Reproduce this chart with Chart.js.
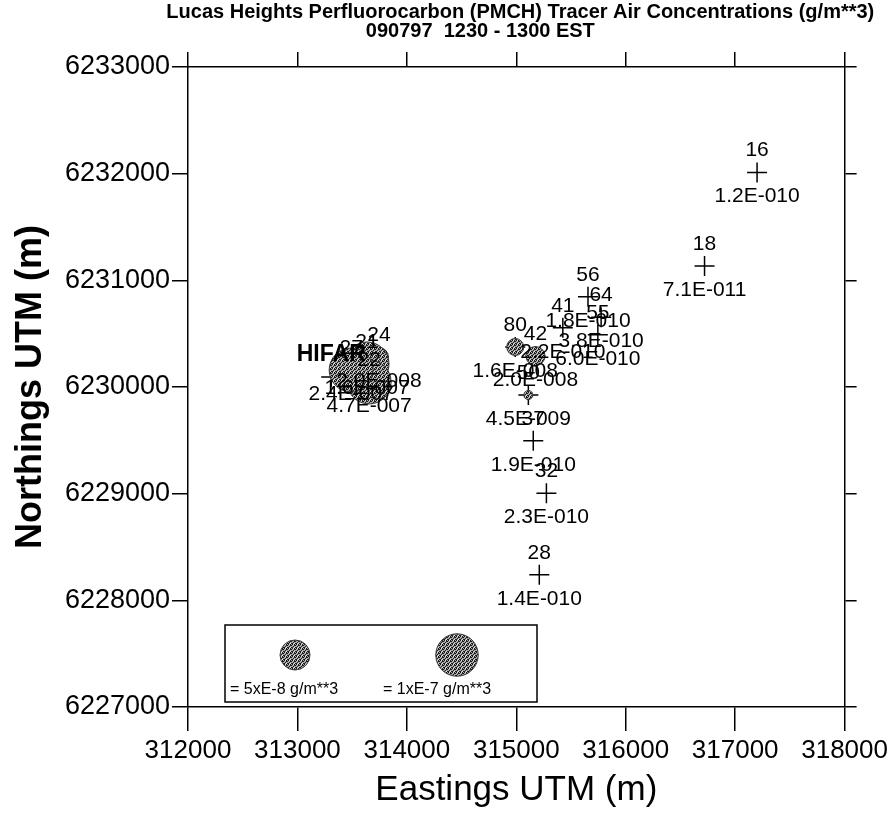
<!DOCTYPE html>
<html>
<head>
<meta charset="utf-8">
<title>Lucas Heights PMCH Tracer</title>
<script src="https://cdn.jsdelivr.net/npm/chart.js@4/dist/chart.umd.min.js"></script>
<style>
html, body { margin:0; padding:0; background:#fff; }
#wrap { width:892px; height:818px; }
</style>
</head>
<body>
<div id="wrap"><canvas id="tracerChart" width="892" height="818"></canvas></div>
<script>
// sampler sites, UTM position and PMCH concentration (g/m**3), null = no sample
var siteIds   = ['16', '18', '56', '64', '55', '41', '80', '42', '50', '37', '32', '28', '24', '21', '22', '27', 'HIFAR'];
var eastings  = [317200, 316720, 315655, 315775, 315745, 315425, 314990, 315175, 315110, 315155, 315275, 315210, 313745, 313636, 313655, 313491, 313309];
var northings = [6232010, 6231135, 6230845, 6230655, 6230490, 6230555, 6230375, 6230290, 6229925, 6229495, 6229005, 6228240, 6230281, 6230216, 6230047, 6230159, 6230094];
var concs     = [1.2e-10, 7.1e-11, 1.8e-10, 3.8e-10, 6.0e-10, 2.2e-10, 1.6e-8, 2.0e-8, 4.5e-9, 1.9e-10, 2.3e-10, 1.4e-10, 2.0e-8, 1.6e-7, 4.7e-7, 2.4e-7, null];

// key circles in the box
var keyConcs  = [5e-8, 1e-7];
var keyLabels = ['= 5xE-8 g/m**3', '= 1xE-7 g/m**3'];

var xTicks = [312000, 313000, 314000, 315000, 316000, 317000, 318000];
var yTicks = [6227000, 6228000, 6229000, 6230000, 6231000, 6232000, 6233000];

var chartTitle = 'Lucas Heights Perfluorocarbon (PMCH) Tracer Air Concentrations (g/m**3)';
var chartSubTitle = '090797  1230 - 1300 EST';

var FONT = '"Liberation Sans", Arial, sans-serif';

// circle size, area goes with concentration, big ones are capped
function bubbleRadius(c)
{
    return Math.min(22, 15 * Math.sqrt(c / 5e-8));
}

// 1.2e-10 -> 1.2E-010
function fmtConc(c)
{
    var parts = c.toExponential(1).split('e');
    var ex = parseInt(parts[1], 10);
    var sign = ex < 0 ? '-' : '+';
    var digits = String(Math.abs(ex));
    while (digits.length < 3) digits = '0' + digits;
    return parts[0] + 'E' + sign + digits;
}

var ctx = document.getElementById('tracerChart').getContext('2d');

// grey dither like the printed dot fill
function makeDither()
{
    var c = document.createElement('canvas');
    c.width = 4; c.height = 4;
    var g = c.getContext('2d');
    g.fillStyle = '#a8a8a8';
    g.fillRect(0, 0, 4, 4);
    g.fillStyle = '#1a1a1a';
    [[0,0],[2,1],[1,2],[3,3],[3,1],[0,3],[2,0]].forEach(function(p){ g.fillRect(p[0], p[1], 1, 1); });
    g.fillStyle = '#e0e0e0';
    [[1,0],[2,3]].forEach(function(p){ g.fillRect(p[0], p[1], 1, 1); });
    return ctx.createPattern(c, 'repeat');
}
var dither = makeDither();

var sitePts = [];
var bubblePts = [];
for (var i = 0; i < siteIds.length; i++)
{
    sitePts.push({x: eastings[i], y: northings[i]});
    if (concs[i] !== null && concs[i] >= 1e-9)
    {
        bubblePts.push({x: eastings[i], y: northings[i], r: bubbleRadius(concs[i])});
    }
}

// id above each cross, concentration under it
var siteLabels = {
    id: 'siteLabels',
    afterDatasetsDraw: function(chart) {
        var c = chart.ctx;
        var sx = chart.scales.x, sy = chart.scales.y;
        c.save();
        c.fillStyle = '#000';
        c.textAlign = 'center';
        c.textBaseline = 'middle';
        for (var i = 0; i < siteIds.length; i++)
        {
            var px = sx.getPixelForValue(eastings[i]);
            var py = sy.getPixelForValue(northings[i]);
            c.font = (siteIds[i] === 'HIFAR' ? 'bold 23px ' : '21px ') + FONT;
            c.fillText(siteIds[i], px, py - 22);
            if (concs[i] !== null)
            {
                c.font = '21px ' + FONT;
                c.fillText(fmtConc(concs[i]), px, py + 24);
            }
        }
        c.restore();
    }
};

// title text and the concentration key box
var titleAndKey = {
    id: 'titleAndKey',
    afterDraw: function(chart) {
        var c = chart.ctx;
        var a = chart.chartArea;
        var mid = (a.left + a.right) / 2;
        c.save();
        c.fillStyle = '#000';
        c.textAlign = 'center';
        c.textBaseline = 'middle';
        c.font = 'bold 20px ' + FONT;
        c.fillText(chartTitle, mid + 4, 12);
        c.fillText(chartSubTitle, mid - 36, 31);

        // key box
        var bx = a.left + 37, by = a.bottom - 82, bw = 312, bh = 77;
        c.fillStyle = '#fff';
        c.fillRect(bx, by, bw, bh);
        c.strokeStyle = '#000';
        c.lineWidth = 1.5;
        c.strokeRect(bx, by, bw, bh);
        var cx = [bx + 70, bx + 232];
        for (var k = 0; k < keyConcs.length; k++)
        {
            c.beginPath();
            c.arc(cx[k], by + 30, bubbleRadius(keyConcs[k]), 0, Math.PI * 2);
            c.fillStyle = dither;
            c.fill();
            c.strokeStyle = '#333';
            c.lineWidth = 1;
            c.stroke();
        }
        c.fillStyle = '#000';
        c.textAlign = 'left';
        c.font = '16px ' + FONT;
        c.fillText(keyLabels[0], bx + 5, by + 65);
        c.fillText(keyLabels[1], bx + 158, by + 65);
        c.restore();
    }
};

var axisBorder = {color: '#000', width: 1.5};

var chart = new Chart(ctx, {
    type: 'scatter',
    data: {
        datasets: [
            {
                type: 'bubble',
                data: bubblePts,
                backgroundColor: dither,
                borderColor: '#333',
                borderWidth: 1
            },
            {
                data: sitePts,
                pointStyle: 'cross',
                pointRadius: 10,
                borderColor: '#000',
                backgroundColor: '#000',
                borderWidth: 1.5
            }
        ]
    },
    options: {
        responsive: false,
        animation: false,
        layout: {padding: 0},
        plugins: {
            legend: {display: false},
            tooltip: {enabled: false},
            title: {display: false}
        },
        scales: {
            x: {
                type: 'linear',
                position: 'bottom',
                min: 312000, max: 318000,
                afterBuildTicks: function(s) { s.ticks = xTicks.map(function(v){ return {value: v}; }); },
                afterFit: function(s) { s.height = 111; },
                ticks: {
                    color: '#000', padding: 4, maxRotation: 0, autoSkip: false,
                    font: {family: FONT, size: 26},
                    callback: function(v) { return String(v); }
                },
                grid: {drawOnChartArea: false, tickLength: 24, color: '#000', lineWidth: 1.5},
                border: axisBorder,
                title: {
                    display: true, text: 'Eastings UTM (m)', color: '#000',
                    font: {family: FONT, size: 35},
                    padding: {top: 0, bottom: 7}
                }
            },
            xTop: {
                type: 'linear',
                axis: 'x',
                position: 'top',
                min: 312000, max: 318000,
                afterBuildTicks: function(s) { s.ticks = xTicks.map(function(v){ return {value: v}; }); },
                afterFit: function(s) { s.height = 67; },
                ticks: {display: false},
                grid: {drawOnChartArea: false, tickLength: 15, color: '#000', lineWidth: 1.5},
                border: axisBorder
            },
            y: {
                type: 'linear',
                position: 'left',
                min: 6227000, max: 6233000,
                afterBuildTicks: function(s) { s.ticks = yTicks.map(function(v){ return {value: v}; }); },
                afterFit: function(s) { s.width = 188; },
                ticks: {
                    color: '#000', padding: 2, autoSkip: false,
                    font: {family: FONT, size: 27},
                    callback: function(v) { return String(v); }
                },
                grid: {drawOnChartArea: false, tickLength: 16, color: '#000', lineWidth: 1.5},
                border: axisBorder,
                title: {
                    display: true, text: 'Northings UTM (m)', color: '#000',
                    font: {family: FONT, size: 36, weight: 'bold'},
                    padding: {top: 9, bottom: 0}
                }
            },
            yRight: {
                type: 'linear',
                axis: 'y',
                position: 'right',
                min: 6227000, max: 6233000,
                afterBuildTicks: function(s) { s.ticks = yTicks.map(function(v){ return {value: v}; }); },
                afterFit: function(s) { s.width = 44; },
                ticks: {display: false},
                grid: {drawOnChartArea: false, tickLength: 12, color: '#000', lineWidth: 1.5},
                border: axisBorder
            }
        }
    },
    plugins: [siteLabels, titleAndKey]
});
</script>
</body>
</html>
